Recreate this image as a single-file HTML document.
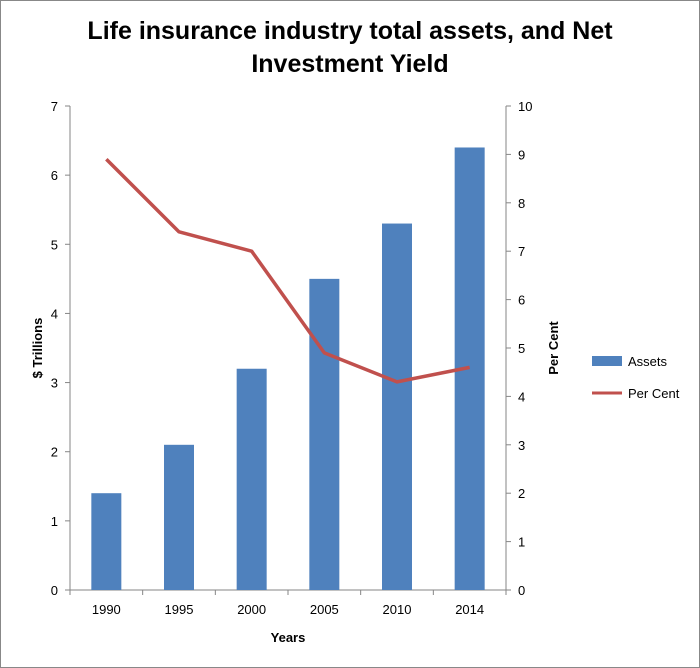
<!DOCTYPE html>
<html><head><meta charset="utf-8"><style>
html,body{margin:0;padding:0;background:#fff;}
svg{display:block;font-family:"Liberation Sans",sans-serif;}
</style></head><body>
<svg id="chart" width="700" height="668" viewBox="0 0 700 668">
<rect x="0.5" y="0.5" width="699" height="667" fill="#fff" stroke="#888"/>
<text x="350" y="39" text-anchor="middle" font-size="25" font-weight="bold" fill="#000">Life insurance industry total assets, and Net</text>
<text x="350" y="72" text-anchor="middle" font-size="25" font-weight="bold" fill="#000">Investment Yield</text>
<g id="axes"></g>
<g id="bars"></g>
<g id="line"></g>
<text transform="translate(42,348) rotate(-90)" text-anchor="middle" font-size="13" font-weight="bold">$ Trillions</text>
<text transform="translate(558,348) rotate(-90)" text-anchor="middle" font-size="13" font-weight="bold">Per Cent</text>
<text x="288" y="642" text-anchor="middle" font-size="13" font-weight="bold">Years</text>
<g>
<rect x="592" y="356" width="30" height="10" fill="#4f81bd"/>
<text x="628" y="366" font-size="13">Assets</text>
<line x1="592" y1="393" x2="622" y2="393" stroke="#c0504d" stroke-width="3"/>
<text x="628" y="398" font-size="13">Per Cent</text>
</g>
</svg>
<script>
const categories=["1990","1995","2000","2005","2010","2014"];
const assets=[1.4,2.1,3.2,4.5,5.3,6.4];
const perCent=[8.9,7.4,7.0,4.9,4.3,4.6];
const leftTicks=[0,1,2,3,4,5,6,7];
const rightTicks=[0,1,2,3,4,5,6,7,8,9,10];
const NS="http://www.w3.org/2000/svg";
const X0=70,X1=506,Y0=590,Y1=106;
const bw=(X1-X0)/categories.length;
function xc(i){return X0+bw*(i+0.5);}
function yL(v){return Y0-(Y0-Y1)*v/7;}
function yR(v){return Y0-(Y0-Y1)*v/10;}
function mk(tag,attrs,parent){const e=document.createElementNS(NS,tag);for(const k in attrs)e.setAttribute(k,attrs[k]);parent.appendChild(e);return e;}
const axes=document.getElementById('axes');
let l=mk('line',{x1:X0,y1:Y1,x2:X0,y2:Y0,stroke:'#868686'},axes);


l=mk('line',{x1:X1,y1:Y1,x2:X1,y2:Y0,stroke:'#868686'},axes);


l=mk('line',{x1:X0,y1:Y0,x2:X1,y2:Y0,stroke:'#868686'},axes);


leftTicks.forEach(v=>{
 const y=yL(v);
 mk('line',{x1:X0-5,y1:y,x2:X0,y2:y,stroke:'#868686'},axes);
 const t=mk('text',{x:X0-12,y:y+5,'text-anchor':'end','font-size':13},axes);
 t.textContent=v;
 
 
});
rightTicks.forEach(v=>{
 const y=yR(v);
 mk('line',{x1:X1,y1:y,x2:X1+5,y2:y,stroke:'#868686'},axes);
 const t=mk('text',{x:X1+12,y:y+5,'font-size':13},axes);
 t.textContent=v;
 
 
});
for(let i=0;i<=categories.length;i++){
 mk('line',{x1:X0+bw*i,y1:Y0,x2:X0+bw*i,y2:Y0+5,stroke:'#868686'},axes);
}
categories.forEach((c,i)=>{
 const t=mk('text',{x:xc(i),y:Y0+24,'text-anchor':'middle','font-size':13},axes);
 t.textContent=c;
 
 
});
const bars=document.getElementById('bars');
assets.forEach((v,i)=>{
 const r=mk('rect',{x:xc(i)-15,y:yL(v),width:30,height:Y0-yL(v),fill:'#4f81bd'},bars);
 
 
});
const lg=document.getElementById('line');
const p=mk('polyline',{points:perCent.map((v,i)=>xc(i)+','+yR(v)).join(' '),fill:'none',stroke:'#c0504d','stroke-width':3.5,'stroke-linejoin':'round'},lg);


</script>
</body></html>
